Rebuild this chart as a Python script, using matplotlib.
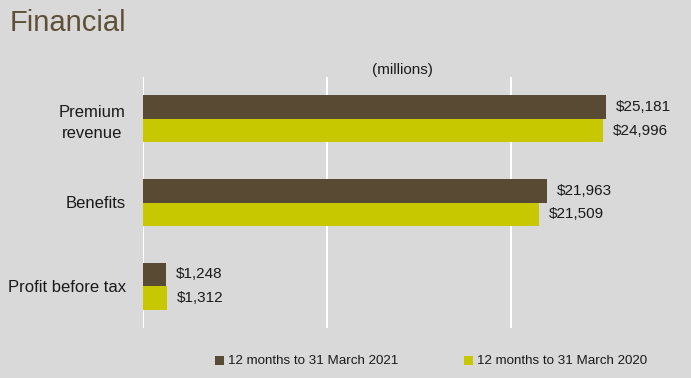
import matplotlib
matplotlib.use("Agg")
import matplotlib.pyplot as plt
import numpy as np
from matplotlib.patches import Rectangle

categories = ["Premium\nrevenue", "Benefits", "Profit before tax"]
values_2021 = [25181, 21963, 1248]
values_2020 = [24996, 21509, 1312]
series_labels = ["12 months to 31 March 2021", "12 months to 31 March 2020"]

BG = "#d9d9d9"
DARK = "#594a33"
LIME = "#c8c800"
TITLE_C = "#5e5037"
TEXT_C = "#1a1a1a"

plt.rcParams["font.family"] = ["Liberation Sans", "DejaVu Sans"]

W, H = 691, 378
fig = plt.figure(figsize=(W / 100, H / 100), dpi=100, facecolor=BG)
ax = fig.add_axes([143 / W, 1 - 328 / H, (691 - 143) / W, (328 - 77) / H], facecolor=BG)

y = np.arange(len(categories))
h = 0.28
ax.barh(y - h / 2, values_2021, height=h, color=DARK, zorder=3)
ax.barh(y + h / 2, values_2020, height=h, color=LIME, zorder=3)

for yi, v in zip(y, values_2021):
    ax.annotate(f"${v:,}", (v, yi - h / 2), xytext=(10, 0), textcoords="offset pixels",
                va="center", ha="left", fontsize=11, color=TEXT_C)
for yi, v in zip(y, values_2020):
    ax.annotate(f"${v:,}", (v, yi + h / 2), xytext=(10, 0), textcoords="offset pixels",
                va="center", ha="left", fontsize=11, color=TEXT_C)

ax.set_xlim(0, 29783)
ax.set_ylim(2.5, -0.5)
ax.set_xticks([0, 10000, 20000])
ax.xaxis.grid(True, color="white", linewidth=1.5, zorder=0)
ax.tick_params(axis="x", length=0, labelbottom=False)
ax.set_yticks(y)
ax.set_yticklabels(categories, fontsize=12, color=TEXT_C, multialignment="center",
                   linespacing=1.45)
ax.tick_params(axis="y", length=0, pad=12.5)
for s in ax.spines.values():
    s.set_visible(False)

fig.text(10 / W, 1 - 23 / H, "Financial", fontsize=21, color=TITLE_C, va="center", ha="left")
fig.text(402 / W, 1 - 70 / H, "(millions)", fontsize=11, color=TEXT_C, va="center", ha="center")

# legend: small squares followed by labels
legend_x = [215, 464]
for lx, col, lab in zip(legend_x, [DARK, LIME], series_labels):
    fig.patches.append(Rectangle((lx / W, 1 - 365 / H), 9 / W, 9 / H,
                                 transform=fig.transFigure, facecolor=col,
                                 edgecolor="none"))
    fig.text((lx + 13) / W, 1 - 361 / H, lab, fontsize=9.6, color=TEXT_C,
             va="center", ha="left")

fig.savefig("out.png", dpi=100, facecolor=BG)
